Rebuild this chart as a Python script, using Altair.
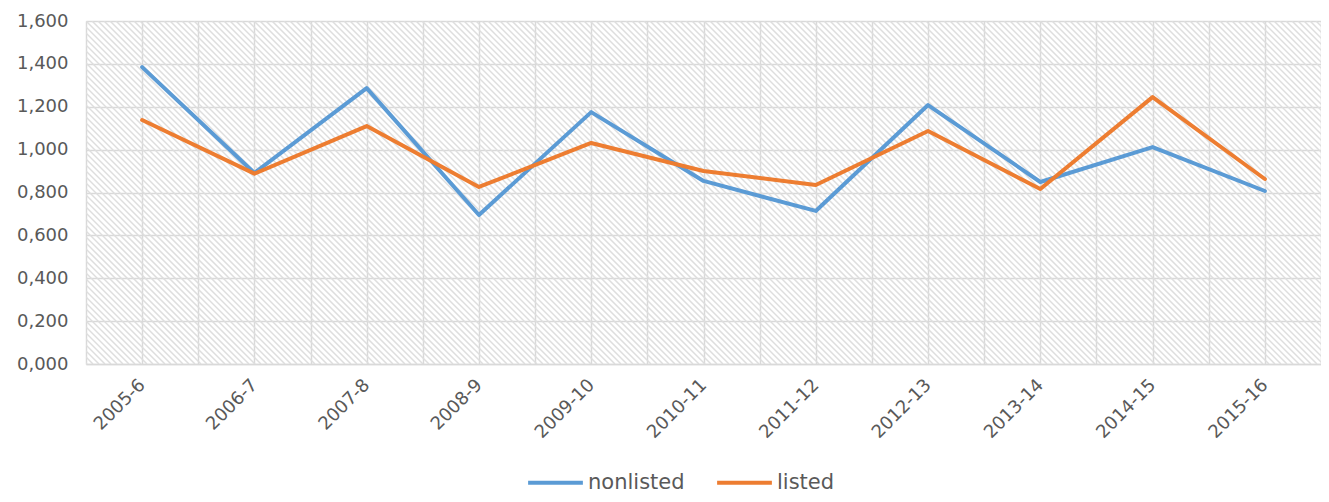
import json
import altair as alt
import pandas as pd

categories = ["2005-6", "2006-7", "2007-8", "2008-9", "2009-10", "2010-11",
              "2011-12", "2012-13", "2013-14", "2014-15", "2015-16"]
nonlisted = [1.385, 0.891, 1.287, 0.695, 1.175, 0.854, 0.714, 1.208, 0.849, 1.012, 0.807]
listed = [1.138, 0.888, 1.110, 0.826, 1.031, 0.900, 0.835, 1.087, 0.816, 1.245, 0.863]
series_names = ["nonlisted", "listed"]
series_colors = ["#5B9BD5", "#ED7D31"]
y_ticks = [0, 0.2, 0.4, 0.6, 0.8, 1.0, 1.2, 1.4, 1.6]

W, H = 1235, 343
FONT = "DejaVu Sans"
TXT = "#595959"

rows = []
for i, c in enumerate(categories):
    rows.append({"idx": i, "category": c, "series": "nonlisted", "value": nonlisted[i]})
    rows.append({"idx": i, "category": c, "series": "listed", "value": listed[i]})
df = pd.DataFrame(rows)

n = len(categories)
x_scale = alt.Scale(domain=[-0.5, n - 0.5], nice=False, zero=False)
x_grid_vals = [i * 0.5 - 0.5 for i in range(2 * n + 1)]
label_expr = f"datum.value % 1 == 0 ? {json.dumps(categories)}[datum.value] : ''"

# background hatching (decoration)
hatch = alt.Chart(alt.sequence(-60, 210, as_="k")).transform_calculate(
    x0="datum.k * 6", x1="datum.k * 6 + 343"
).mark_rule(color="#dedede", strokeWidth=1.5, clip=True).encode(
    x=alt.X("x0:Q", scale=None),
    x2="x1:Q",
    y=alt.value(0),
    y2=alt.value(H),
)

lines = alt.Chart(df).mark_line(strokeWidth=4, strokeCap="round", strokeJoin="round").encode(
    x=alt.X("idx:Q", scale=x_scale, title=None,
            axis=alt.Axis(values=x_grid_vals, labelExpr=label_expr, labelAngle=-45,
                          labelAlign="right", labelBaseline="middle", labelPadding=18,
                          ticks=False, grid=True, gridColor="#d9d9d9", gridWidth=1.5,
                          domainColor="#d9d9d9", domainWidth=1.5,
                          labelFont=FONT, labelFontSize=18, labelColor=TXT,
                          labelOverlap=False, labelBound=False, labelFlush=False)),
    y=alt.Y("value:Q", scale=alt.Scale(domain=[0, 1.6], nice=False), title=None,
            axis=alt.Axis(values=y_ticks,
                          labelExpr="replace(format(datum.value, '.3f'), '.', ',')",
                          ticks=False, domain=False, grid=True, gridColor="#d9d9d9",
                          gridWidth=1.5, labelPadding=18, labelFont=FONT,
                          labelFontSize=18, labelColor=TXT)),
    color=alt.Color("series:N", scale=alt.Scale(domain=series_names, range=series_colors),
                    sort=series_names, title=None,
                    legend=alt.Legend(orient="none", legendX=440, legendY=432,
                                      direction="horizontal", symbolType="stroke",
                                      symbolSize=3000, symbolStrokeWidth=4,
                                      labelFont=FONT, labelFontSize=21, labelColor=TXT,
                                      labelOffset=3, columnPadding=24)),
    order="idx:Q",
)

chart = alt.layer(hatch, lines).properties(
    width=W, height=H,
    autosize=alt.AutoSizeParams(type="none"),
    padding={"left": 78, "top": 13, "right": 0, "bottom": 130},
).configure_view(stroke=None)

chart.save("out.html", embed_options={"renderer": "svg", "actions": False})
